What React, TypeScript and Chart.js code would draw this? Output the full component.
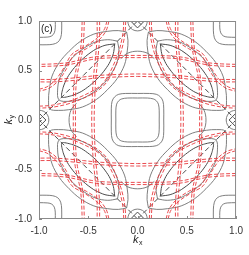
import { useEffect, useRef } from "react";
import { Chart, registerables } from "chart.js";
Chart.register(...registerables);

type P = [number, number];

// ---- axis / text ----
const xTicks = [-1, -0.5, 0, 0.5, 1];
const yTicks = [-1, -0.5, 0, 0.5, 1];
const panelLabel = "(c)";

// ---- gray solid contours ----
// central rounded squares: first-quadrant arcs from (a,0) to (0,b)
const centerInnerQ: P[] = [[0.22, 0], [0.22, 0.1], [0.212, 0.16], [0.19, 0.195], [0.16, 0.213], [0.1, 0.222], [0, 0.222]];
const centerOuterQ: P[] = [[0.266, 0], [0.266, 0.12], [0.258, 0.19], [0.232, 0.234], [0.19, 0.26], [0.12, 0.268], [0, 0.268]];
// corner pockets around (1,1)
const cornerInner: P[] = [[0.835, 1], [0.835, 0.93], [0.845, 0.88], [0.87, 0.85], [0.91, 0.838], [1, 0.835]];
const cornerOuter: P[] = [[0.77, 1], [0.77, 0.9], [0.78, 0.83], [0.81, 0.785], [0.86, 0.765], [0.92, 0.76], [1, 0.76]];
// small arc and V around the edge centre (0,1)
const edgeArc: P[] = [[-0.1, 1], [-0.087, 0.95], [-0.05, 0.913], [0, 0.9], [0.05, 0.913], [0.087, 0.95], [0.1, 1]];
const edgeV: P[] = [[-0.07, 1], [0, 0.93], [0.07, 1]];
const edgeBow: P[] = [[-0.17, 0.62], [-0.1, 0.675], [0, 0.695], [0.1, 0.675], [0.17, 0.62]];
// lenses along kx+ky=1, given as (u along the line, v across it), upper halves
const innerLensHalf: P[] = [[-0.38, 0], [-0.3, 0.06], [-0.2, 0.1], [-0.1, 0.118], [0, 0.124], [0.1, 0.118], [0.2, 0.1], [0.3, 0.06], [0.38, 0]];
const middleLensHalf: P[] = [[-0.42, 0], [-0.36, 0.08], [-0.26, 0.15], [-0.13, 0.19], [0, 0.205], [0.13, 0.19], [0.26, 0.15], [0.36, 0.08], [0.42, 0]];
const outerLensHalf: P[] = [[-0.55, 0], [-0.5, 0.07], [-0.42, 0.14], [-0.3, 0.22], [-0.15, 0.265], [0, 0.275], [0.15, 0.265], [0.3, 0.22], [0.42, 0.14], [0.5, 0.07], [0.55, 0]];
// dashed black diagonal
const diagonal: P[] = [[0, 1], [1, 0]];

// ---- red dashed contours (upper-right quadrant, from ky=1 down to ky=0) ----
const v1a: P[] = [[0.385, 1], [0.385, 0.85], [0.395, 0.7], [0.41, 0.55], [0.425, 0.4], [0.435, 0.2], [0.44, 0]];
const v1b: P[] = [[0.41, 1], [0.41, 0.85], [0.42, 0.7], [0.435, 0.55], [0.45, 0.4], [0.46, 0.2], [0.465, 0]];
const v2a: P[] = [[0.54, 1], [0.545, 0.85], [0.555, 0.72], [0.58, 0.6], [0.61, 0.47], [0.625, 0.33], [0.63, 0.15], [0.63, 0]];
const v2b: P[] = [[0.562, 1], [0.567, 0.85], [0.578, 0.72], [0.602, 0.6], [0.632, 0.47], [0.647, 0.33], [0.652, 0.15], [0.652, 0]];
// red curves hugging the lens, inner side and outer side
const v3a: P[] = [[0.12, 1], [0.125, 0.9], [0.14, 0.8], [0.17, 0.68], [0.22, 0.55], [0.28, 0.43], [0.345, 0.345], [0.43, 0.28], [0.55, 0.22], [0.68, 0.17], [0.8, 0.14], [0.9, 0.125], [1, 0.12]];
const v3b: P[] = [[0.14, 1], [0.145, 0.9], [0.16, 0.81], [0.19, 0.69], [0.24, 0.565], [0.3, 0.445], [0.36, 0.36], [0.445, 0.3], [0.565, 0.24], [0.69, 0.19], [0.81, 0.16], [0.9, 0.145], [1, 0.14]];
const v4a: P[] = [[0.29, 1], [0.32, 0.9], [0.4, 0.8], [0.52, 0.72], [0.65, 0.65], [0.72, 0.52], [0.8, 0.4], [0.9, 0.32], [1, 0.29]];
const v4b: P[] = [[0.31, 1], [0.34, 0.91], [0.42, 0.82], [0.54, 0.74], [0.665, 0.665], [0.74, 0.54], [0.82, 0.42], [0.91, 0.34], [1, 0.31]];

// ---- symmetry helpers ----
const SQ = Math.SQRT1_2;
const mirror4 = (c: P[]): P[][] => [
  c,
  c.map(([x, y]) => [-x, y] as P),
  c.map(([x, y]) => [x, -y] as P),
  c.map(([x, y]) => [-x, -y] as P),
];
const transpose = (c: P[]): P[] => c.map(([x, y]) => [y, x] as P);
const quadLoop = (q: P[]): P[] => [
  ...q,
  ...q.slice().reverse().map(([x, y]) => [-x, y] as P),
  ...q.map(([x, y]) => [-x, -y] as P),
  ...q.slice().reverse().map(([x, y]) => [x, -y] as P),
];
const closeLens = (half: P[]): P[] => [...half, ...half.slice(0, -1).reverse().map(([u, v]) => [u, -v] as P)];
const fromLens = (pts: P[]): P[] => pts.map(([u, v]) => [0.5 + (u + v) * SQ, 0.5 + (v - u) * SQ] as P);
const fullVert = (q: P[]): P[] => [...q, ...q.slice(0, -1).reverse().map(([x, y]) => [x, -y] as P)];
const edge4 = (c: P[]): P[][] => [
  c,
  c.map(([x, y]) => [x, -y] as P),
  transpose(c),
  transpose(c).map(([x, y]) => [-x, y] as P),
];
const vertFamily = (q: P[]): P[][] => {
  const f = fullVert(q);
  const left = f.map(([x, y]) => [-x, y] as P);
  return [f, left, transpose(f), transpose(left)];
};

const GRAY = "#707070";
const DARK = "#4a4a4a";
const RED = "#e8383c";

const ds = (pts: P[], color: string, width: number, dash: number[] = [], tension = 0.35) => ({
  data: pts.map(([x, y]) => ({ x, y })),
  showLine: true,
  borderColor: color,
  backgroundColor: color,
  borderWidth: width,
  borderDash: dash,
  pointRadius: 0,
  pointHoverRadius: 0,
  fill: false,
  tension,
  clip: 0,
});

function buildDatasets() {
  const out: any[] = [];
  // red first (underneath)
  for (const q of [v1a, v1b, v2a, v2b]) for (const c of vertFamily(q)) out.push(ds(c, RED, 0.9, [4, 2]));
  for (const q of [v3a, v3b, v4a, v4b]) for (const c of mirror4(q)) out.push(ds(c, RED, 0.9, [4, 2]));
  // gray contours
  out.push(ds(quadLoop(centerInnerQ), GRAY, 0.9));
  out.push(ds(quadLoop(centerOuterQ), GRAY, 0.9));
  for (const q of [cornerInner, cornerOuter]) for (const c of mirror4(q)) out.push(ds(c, GRAY, 0.9));
  for (const c of edge4(edgeArc)) out.push(ds(c, GRAY, 0.9));
  for (const c of edge4(edgeBow)) out.push(ds(c, GRAY, 0.9));
  for (const c of edge4(edgeV)) out.push(ds(c, DARK, 1, [], 0));
  for (const c of mirror4(fromLens(closeLens(outerLensHalf)))) out.push(ds(c, GRAY, 0.9));
  for (const c of mirror4(fromLens(closeLens(middleLensHalf)))) out.push(ds(c, GRAY, 0.9));
  for (const c of mirror4(fromLens(closeLens(innerLensHalf)))) out.push(ds(c, DARK, 1, [], 0.25));
  for (const c of mirror4(diagonal)) out.push(ds(c, DARK, 1, [5, 3], 0));
  return out;
}

function drawK(ctx: CanvasRenderingContext2D, cx: number, base: number, sub: string) {
  ctx.font = 'italic 11px "Liberation Sans"';
  const wk = ctx.measureText("k").width;
  ctx.font = '7px "Liberation Sans"';
  const ws = ctx.measureText(sub).width;
  const x0 = cx - (wk + ws) / 2;
  ctx.font = 'italic 11px "Liberation Sans"';
  ctx.fillText("k", x0, base);
  ctx.font = '7px "Liberation Sans"';
  ctx.fillText(sub, x0 + wk + 0.5, base + 2);
}

const framePlugin = {
  id: "frame",
  afterDatasetsDraw(chart: any) {
    const { ctx, chartArea: a, scales } = chart;
    ctx.save();
    ctx.strokeStyle = "#8a8a8a";
    ctx.lineWidth = 1;
    ctx.strokeRect(a.left + 0.5, a.top + 0.5, a.right - a.left - 1, a.bottom - a.top - 1);
    ctx.beginPath();
    for (const t of xTicks) {
      const px = Math.round(scales.x.getPixelForValue(t)) + 0.5;
      ctx.moveTo(px, a.bottom);
      ctx.lineTo(px, a.bottom - 3);
    }
    for (const t of yTicks) {
      const py = Math.round(scales.y.getPixelForValue(t)) + 0.5;
      ctx.moveTo(a.left, py);
      ctx.lineTo(a.left + 3, py);
    }
    ctx.stroke();
    ctx.fillStyle = "#222";
    ctx.textBaseline = "alphabetic";
    ctx.textAlign = "left";
    ctx.font = '10px "Liberation Sans"';
    ctx.fillText(panelLabel, a.left + 2, a.top + 11);
    drawK(ctx, (a.left + a.right) / 2, 243, "x");
    ctx.translate(12, (a.top + a.bottom) / 2);
    ctx.rotate(-Math.PI / 2);
    drawK(ctx, 0, 0, "y");
    ctx.restore();
  },
};

export default function App() {
  const ref = useRef<HTMLCanvasElement>(null);
  useEffect(() => {
    document.body.style.margin = "0";
    const canvas = ref.current!;
    const tickFont = { family: '"Liberation Sans"', size: 10 };
    const chart = new Chart(canvas, {
      type: "scatter",
      data: { datasets: buildDatasets() },
      options: {
        animation: false,
        responsive: false,
        devicePixelRatio: 1,
        events: [],
        layout: { padding: { top: 21, right: 11, left: 0, bottom: 0 } },
        plugins: { legend: { display: false }, tooltip: { enabled: false } },
        scales: {
          x: {
            type: "linear",
            min: -1,
            max: 1,
            afterFit: (s: any) => { s.height = 36; },
            afterBuildTicks: (s: any) => { s.ticks = xTicks.map((v) => ({ value: v })); },
            ticks: { padding: 6, color: "#333", font: tickFont, callback: (v: any) => Number(v).toFixed(1), maxRotation: 0 },
            grid: { display: false, drawTicks: false },
            border: { display: false },
          },
          y: {
            type: "linear",
            min: -1,
            max: 1,
            afterFit: (s: any) => { s.width = 39; },
            afterBuildTicks: (s: any) => { s.ticks = yTicks.map((v) => ({ value: v })); },
            ticks: { padding: 7, color: "#333", font: tickFont, callback: (v: any) => Number(v).toFixed(1) },
            grid: { display: false, drawTicks: false },
            border: { display: false },
          },
        },
      } as any,
      plugins: [framePlugin],
    });
    return () => chart.destroy();
  }, []);
  return (
    <div style={{ position: "fixed", left: 0, top: 0, width: 249, height: 255, background: "#fff" }}>
      <canvas ref={ref} width={249} height={255} style={{ width: 249, height: 255 }} />
    </div>
  );
}
